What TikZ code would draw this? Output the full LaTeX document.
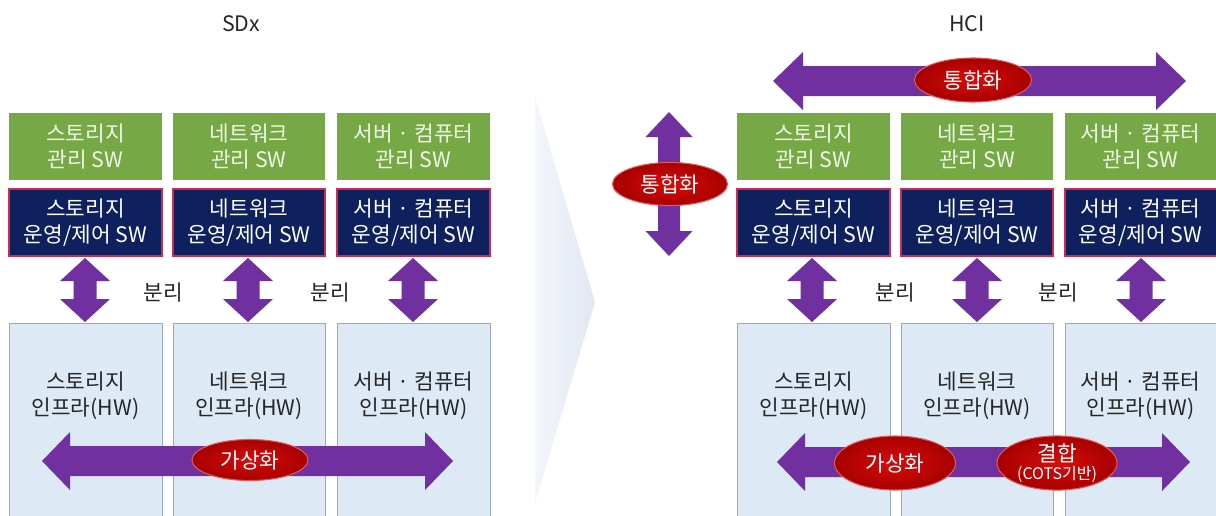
\documentclass[tikz,border=0pt]{standalone}
\usepackage{fontspec}
\setmainfont{Noto Sans CJK KR}
\usetikzlibrary{shapes.geometric}
\definecolor{gr}{RGB}{119,168,70}
\definecolor{grt}{RGB}{240,246,232}
\definecolor{nv}{RGB}{14,32,94}
\definecolor{nvb}{RGB}{205,45,75}
\definecolor{lb}{RGB}{221,233,245}
\definecolor{lbb}{RGB}{150,170,196}
\definecolor{pu}{RGB}{112,48,160}
\definecolor{rdi}{RGB}{214,12,12}
\definecolor{rdo}{RGB}{168,0,0}
\definecolor{rdb}{RGB}{225,90,90}
\definecolor{chl}{RGB}{243,246,251}
\definecolor{chr}{RGB}{225,231,243}
\newcommand{\dblH}[6]{%
\fill[pu] (#1,#3) -- ({#1+#6},{#3-#4}) -- ({#1+#6},{#3-#5}) -- ({#2-#6},{#3-#5}) -- ({#2-#6},{#3-#4}) -- (#2,#3) -- ({#2-#6},{#3+#4}) -- ({#2-#6},{#3+#5}) -- ({#1+#6},{#3+#5}) -- ({#1+#6},{#3+#4}) -- cycle;}
\newcommand{\dblV}[6]{%
\fill[pu] (#3,#1) -- ({#3+#4},{#1+#6}) -- ({#3+#5},{#1+#6}) -- ({#3+#5},{#2-#6}) -- ({#3+#4},{#2-#6}) -- (#3,#2) -- ({#3-#4},{#2-#6}) -- ({#3-#5},{#2-#6}) -- ({#3-#5},{#1+#6}) -- ({#3-#4},{#1+#6}) -- cycle;}
\newcommand{\boxat}[7]{%
\node[#2, anchor=north west, minimum width={(#5-#3)*0.75pt}, minimum height={(#6-#4)*0.75pt}] (#1) at (#3,#4) {#7};}
\tikzset{
  base/.style={inner sep=0pt, outer sep=0pt, align=center, font=\fontsize{16}{19.3}\selectfont},
  grbox/.style={base, fill=gr, text=grt},
  nvbox/.style={base, fill=nv, draw=nvb, line width=0.8pt, text=white},
  lbbox/.style={base, fill=lb, draw=lbb, line width=0.6pt},
  txt/.style={base, text=black!85},
  ell/.style={ellipse, inner sep=0pt, outer sep=0pt, inner color=rdi, outer color=rdo, draw=rdb, line width=0.8pt, text=white, align=center, font=\fontsize{16}{17}\selectfont}
}
\begin{document}
\begin{tikzpicture}[x=0.75pt, y=-0.75pt]
\useasboundingbox (0,0) rectangle (1216,515);
\fill[white] (0,0) rectangle (1216,515);
% chevron
\shade[left color=chl, right color=chr] (535,97) -- (595,302) -- (535,503) -- cycle;
% titles
\node[txt] (t1) at (241,24) {SDx};
\node[txt] (t2) at (967,24) {HCI};
% left panel boxes
\boxat{g1}{grbox}{9}{113}{162}{180}{스토리지\\관리 SW}
\boxat{g2}{grbox}{173}{113}{325}{180}{네트워크\\관리 SW}
\boxat{g3}{grbox}{337}{113}{490}{180}{서버 · 컴퓨터\\관리 SW}
\boxat{n1}{nvbox}{9}{189}{162}{256}{스토리지\\운영/제어 SW}
\boxat{n2}{nvbox}{173}{189}{325}{256}{네트워크\\운영/제어 SW}
\boxat{n3}{nvbox}{337}{189}{490}{256}{서버 · 컴퓨터\\운영/제어 SW}
\boxat{h1}{lbbox}{9}{323}{162}{525}{}
\boxat{h2}{lbbox}{173}{323}{325}{525}{}
\boxat{h3}{lbbox}{337}{323}{490}{525}{}
\node[txt] (h1t) at (85.5,396) {스토리지\\인프라(HW)};
\node[txt] (h2t) at (249,396) {네트워크\\인프라(HW)};
\node[txt] (h3t) at (413.5,396) {서버 · 컴퓨터\\인프라(HW)};
% right panel boxes
\boxat{G1}{grbox}{737}{113}{890}{180}{스토리지\\관리 SW}
\boxat{G2}{grbox}{901}{113}{1053}{180}{네트워크\\관리 SW}
\boxat{G3}{grbox}{1065}{113}{1230}{180}{}
\node[base, text=grt] (G3t) at (1140.5,146.5) {서버 · 컴퓨터\\관리 SW};
\boxat{N1}{nvbox}{737}{189}{890}{256}{스토리지\\운영/제어 SW}
\boxat{N2}{nvbox}{901}{189}{1053}{256}{네트워크\\운영/제어 SW}
\boxat{N3}{nvbox}{1065}{189}{1230}{256}{}
\node[base, text=white] (N3t) at (1140.5,222.5) {서버 · 컴퓨터\\운영/제어 SW};
\boxat{H1}{lbbox}{737}{323}{890}{525}{}
\boxat{H2}{lbbox}{901}{323}{1053}{525}{}
\boxat{H3}{lbbox}{1065}{323}{1230}{525}{}
\node[txt] (H1t) at (813.5,396) {스토리지\\인프라(HW)};
\node[txt] (H2t) at (977,396) {네트워크\\인프라(HW)};
\node[txt] (H3t) at (1140.5,396) {서버 · 컴퓨터\\인프라(HW)};
% separation arrows
\dblV{258}{322}{85}{25}{11.5}{23}
\dblV{258}{322}{248}{25}{11.5}{23}
\dblV{258}{322}{413}{25}{11.5}{23}
\dblV{258}{322}{812}{25}{11.5}{23}
\dblV{258}{322}{977}{25}{11.5}{23}
\dblV{258}{322}{1141}{25}{11.5}{23}
\node[txt] (s1) at (163,293) {분리};
\node[txt] (s2) at (330,293) {분리};
\node[txt] (S1) at (895,293) {분리};
\node[txt] (S2) at (1058,293) {분리};
% horizontal arrows
\dblH{42}{453}{461}{29}{15}{28}
\dblH{777}{1190}{462}{29}{15}{28}
\dblH{773}{1186}{81}{29}{15}{30}
\dblV{112}{256}{669}{23.5}{11}{25}
% ellipses
\node[ell, minimum width={116*0.75pt}, minimum height={41*0.75pt}] (e1) at (250,460) {가상화};
\node[ell, minimum width={121*0.75pt}, minimum height={54*0.75pt}] (E1) at (895,463) {가상화};
\node[ell, minimum width={120*0.75pt}, minimum height={54*0.75pt}] (E2) at (1057,463) {결합\\[-4pt]{\fontsize{12}{13}\selectfont (COTS기반)}};
\node[ell, minimum width={117*0.75pt}, minimum height={44*0.75pt}] (E3) at (973,80) {통합화};
\node[ell, minimum width={115*0.75pt}, minimum height={43*0.75pt}] (E4) at (670,184) {통합화};
\end{tikzpicture}
\end{document}
